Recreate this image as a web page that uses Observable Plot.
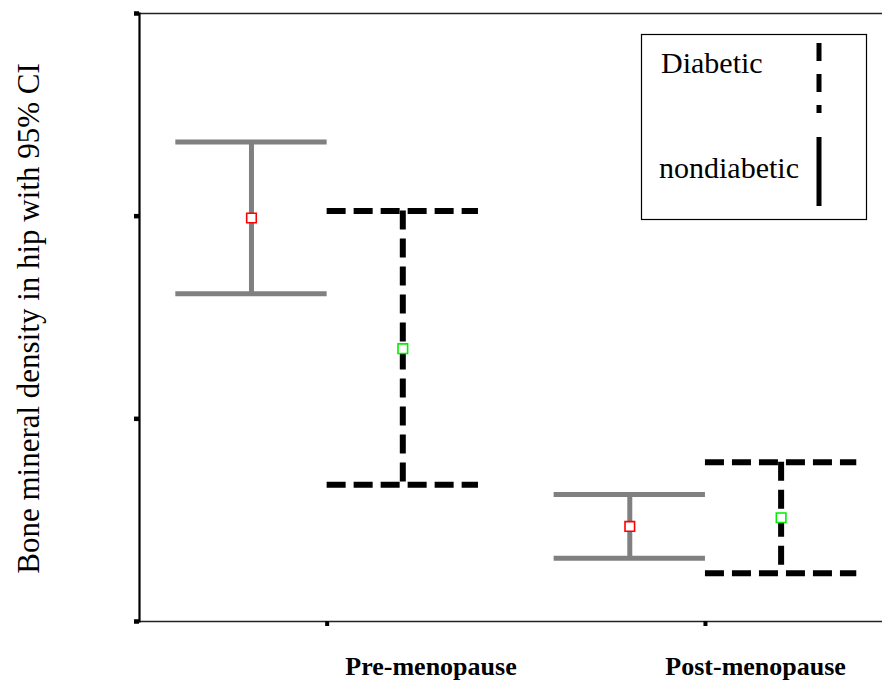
<!DOCTYPE html>
<html>
<head>
<meta charset="utf-8">
<script src="https://cdn.jsdelivr.net/npm/d3@7"></script>
<script src="https://cdn.jsdelivr.net/npm/@observablehq/plot@0.6"></script>
<style>
  html, body { margin: 0; padding: 0; background: #fff; }
  #wrap { position: relative; width: 882px; height: 682px; }
  #legend { position: absolute; left: 0; top: 0; pointer-events: none; }
</style>
</head>
<body>
<div id="wrap"></div>
<script>
// ---- data (y axis has no printed values) ----
const groups = ["Pre-menopause", "Post-menopause"];
const seriesNames = ["nondiabetic", "Diabetic"];
const nondiabeticMean  = [1.991, 0.469];
const nondiabeticLower = [1.617, 0.312];
const nondiabeticUpper = [2.366, 0.627];
const diabeticMean  = [1.346, 0.512];
const diabeticLower = [0.675, 0.238];
const diabeticUpper = [2.025, 0.786];
const yTicks = [0, 1, 2, 3];
const xTicks = [1, 2];
const yTitle = "Bone mineral density in hip with 95% CI";

// ---- layout (not data) ----
const groupOffset = {nondiabetic: -0.2, Diabetic: 0.2};
const capHalf = 0.2;
const labelShift = [0.048, -0.106];

function rows(name, mean, lo, hi) {
  return groups.map((g, i) => ({
    group: g, series: name,
    cx: xTicks[i] + groupOffset[name],
    mean: mean[i], lo: lo[i], hi: hi[i]
  }));
}
const nonRows = rows(seriesNames[0], nondiabeticMean, nondiabeticLower, nondiabeticUpper);
const diaRows = rows(seriesNames[1], diabeticMean, diabeticLower, diabeticUpper);
const labels = groups.map((g, i) => ({name: g, x: xTicks[i] + labelShift[i]}));

const serif = "'Liberation Serif', 'Times New Roman', Times, serif";
const dash = "19,8";
const chart = Plot.plot({
  width: 882, height: 682,
  marginLeft: 139, marginRight: 0, marginTop: 13, marginBottom: 61,
  style: {fontFamily: serif, background: "#fff"},
  x: {type: "linear", domain: [0.504, 2.468], axis: null},
  y: {domain: [0, 3], axis: null},
  marks: [
    Plot.frame({anchor: "top", stroke: "#222", strokeWidth: 1.5}),
    Plot.frame({anchor: "bottom", stroke: "#222", strokeWidth: 1.5}),
    Plot.frame({anchor: "left", stroke: "#000", strokeWidth: 2.2}),
    Plot.axisY({ticks: yTicks, tickSize: 5, tickFormat: () => "", strokeWidth: 4.5, label: null}),
    Plot.axisX({ticks: xTicks, tickSize: 5, tickFormat: () => "", strokeWidth: 4, label: null}),
    // nondiabetic: solid gray
    Plot.ruleX(nonRows, {x: "cx", y1: "lo", y2: "hi", stroke: "#808080", strokeWidth: 5}),
    Plot.ruleY(nonRows, {y: "hi", x1: d => d.cx - capHalf, x2: d => d.cx + capHalf, stroke: "#808080", strokeWidth: 5}),
    Plot.ruleY(nonRows, {y: "lo", x1: d => d.cx - capHalf, x2: d => d.cx + capHalf, stroke: "#808080", strokeWidth: 5}),
    // diabetic: dashed black
    Plot.ruleX(diaRows, {x: "cx", y1: "hi", y2: "lo", stroke: "#000", strokeWidth: 6, strokeDasharray: "19,9"}),
    Plot.ruleY(diaRows, {y: "hi", x1: d => d.cx - capHalf, x2: d => d.cx + capHalf, stroke: "#000", strokeWidth: 6, strokeDasharray: dash}),
    Plot.ruleY(diaRows, {y: "lo", x1: d => d.cx - capHalf, x2: d => d.cx + capHalf, stroke: "#000", strokeWidth: 6, strokeDasharray: dash}),
    // means
    Plot.dot(nonRows, {x: "cx", y: "mean", symbol: "square", r: 5.4, stroke: "#ff0000", fill: "#fff", strokeWidth: 1.6}),
    Plot.dot(diaRows, {x: "cx", y: "mean", symbol: "square", r: 5.4, stroke: "#00ee00", fill: "#fff", strokeWidth: 1.6}),
    // category labels
    Plot.text(labels, {x: "x", text: "name", frameAnchor: "bottom", dy: 53, lineAnchor: "bottom", textAnchor: "start", fontSize: 26, fontWeight: "bold", fill: "#000"}),
    // y title
    Plot.text([yTitle], {text: d => d, frameAnchor: "left", textAnchor: "middle", rotate: -90, dx: -110, dy: 1, fontSize: 31, fill: "#000"})
  ]
});
const wrap = document.getElementById("wrap");
wrap.appendChild(chart);

// legend overlay
const ns = "http://www.w3.org/2000/svg";
const leg = document.createElementNS(ns, "svg");
leg.setAttribute("id", "legend");
leg.setAttribute("width", 882);
leg.setAttribute("height", 682);
leg.innerHTML = `
  <rect x="641.5" y="34.5" width="225" height="185" fill="#fff" stroke="#000" stroke-width="1.2"/>
  <text x="661" y="73" font-family="${serif}" font-size="30" fill="#000">${seriesNames[1]}</text>
  <text x="659" y="178" font-family="${serif}" font-size="30" fill="#000">${seriesNames[0]}</text>
  <line x1="819" x2="819" y1="43" y2="113" stroke="#000" stroke-width="5" stroke-dasharray="18,13"/>
  <line x1="819" x2="819" y1="137" y2="206" stroke="#000" stroke-width="5"/>
`;
wrap.appendChild(leg);
</script>
</body>
</html>
